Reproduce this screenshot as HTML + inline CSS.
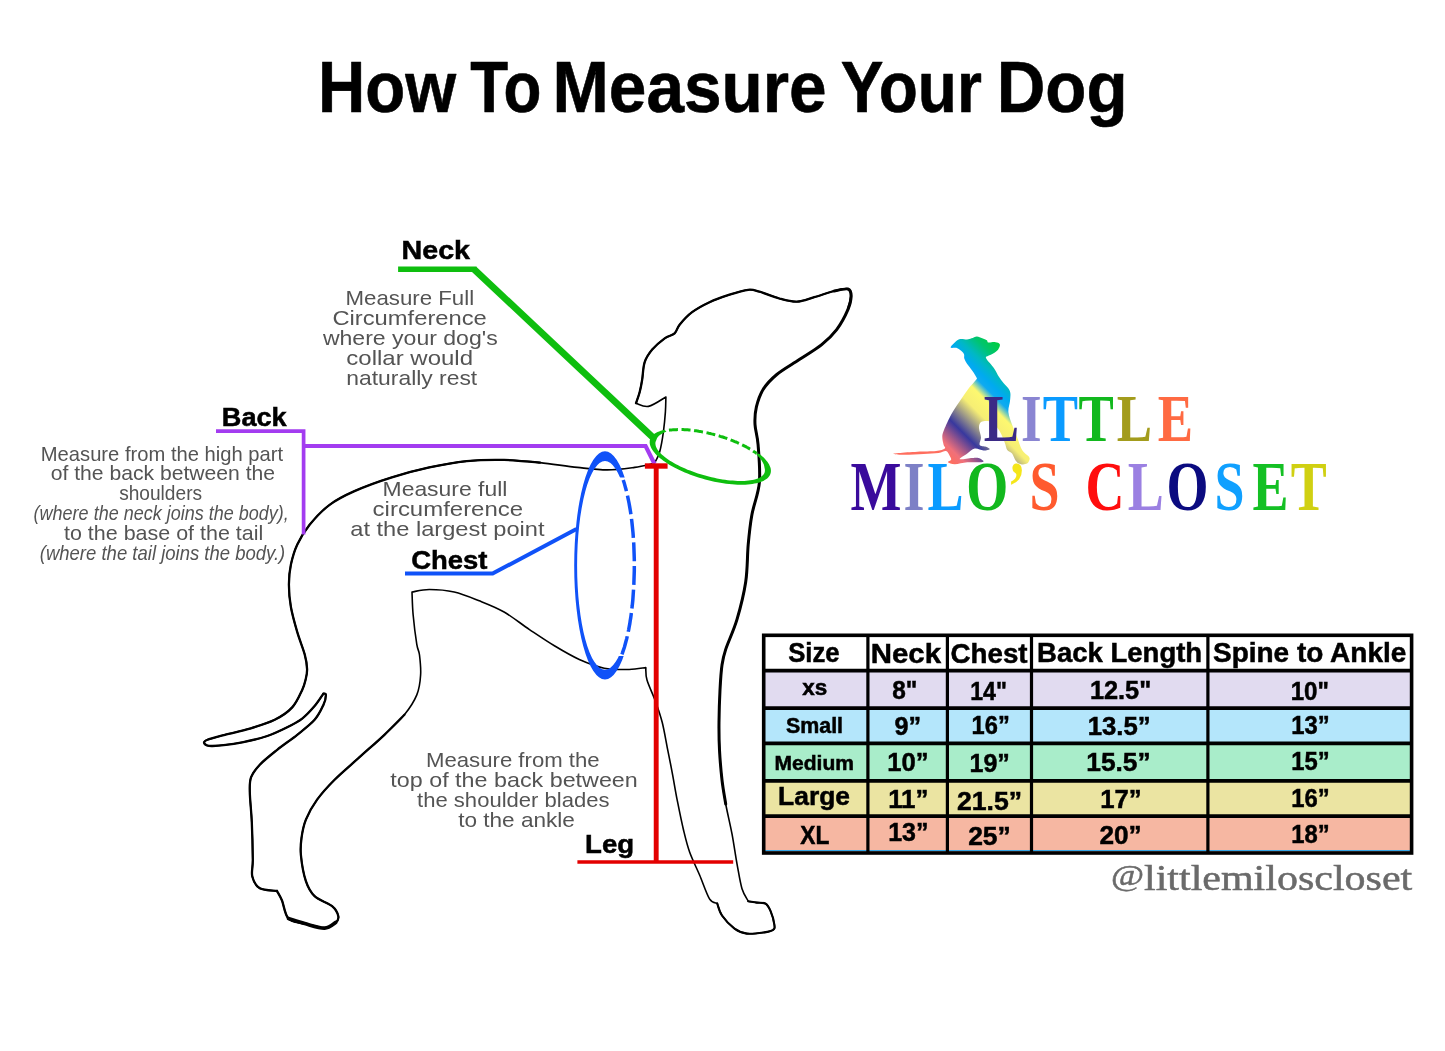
<!DOCTYPE html>
<html lang="en"><head><meta charset="utf-8"><title>How To Measure Your Dog</title>
<style>html,body{margin:0;padding:0;background:#fff}svg{display:block}</style></head>
<body>
<svg width="1445" height="1051" viewBox="0 0 1445 1051">
<g font-family="'Liberation Sans', sans-serif" font-weight="700" fill="#000" stroke="#000" stroke-width="0.6" stroke-linejoin="round">
<text x="318.04" y="111.9" font-size="72.6" textLength="138.18" lengthAdjust="spacingAndGlyphs">How</text>
<text x="470.18" y="111.9" font-size="72.6" textLength="71.16" lengthAdjust="spacingAndGlyphs">To</text>
<text x="552.61" y="111.9" font-size="72.6" textLength="274.04" lengthAdjust="spacingAndGlyphs">Measure</text>
<text x="840.82" y="111.9" font-size="72.6" textLength="141.06" lengthAdjust="spacingAndGlyphs">Your</text>
<text x="996.73" y="111.9" font-size="72.6" textLength="130.77" lengthAdjust="spacingAndGlyphs">Dog</text>
</g>
<path d="M636.0 403.2 C638.1 403.7 643.5 407.4 648.5 406.4 C653.5 405.4 663.0 398.6 665.9 397.0 C665.8 399.5 665.8 406.1 665.4 411.9 C665.0 417.7 664.3 425.2 663.4 431.9 C662.5 438.5 661.0 447.0 659.7 451.8 C658.5 456.6 657.0 458.5 655.9 460.5 C654.8 462.5 653.8 463.1 653.4 463.6 C650.3 464.2 642.4 466.3 634.7 467.4 C627.0 468.4 616.8 469.9 607.3 469.9 C597.8 469.9 588.6 468.6 577.4 467.4 C566.2 466.2 552.2 463.9 540.0 462.6 C527.8 461.4 516.3 460.1 504.1 459.9 C491.9 459.6 479.2 459.9 466.7 461.1 C454.2 462.4 441.8 464.7 429.3 467.4 C416.8 470.1 404.4 473.4 391.9 477.3 C379.4 481.2 364.9 486.5 354.5 491.1 C344.1 495.7 337.1 499.2 329.6 504.8 C322.1 510.4 315.0 518.1 309.6 524.7 C304.2 531.4 300.3 538.1 297.2 544.7 C294.1 551.4 292.3 558.0 290.9 564.6 C289.5 571.2 288.9 577.4 288.9 584.5 C288.9 591.6 289.5 599.1 290.9 607.0 C292.3 614.9 294.9 624.0 297.2 631.9 C299.5 639.8 303.0 648.2 304.7 654.4 C306.4 660.6 307.0 665.0 307.1 669.3 C307.2 673.6 306.3 676.6 305.5 680.0 C304.7 683.4 304.4 685.3 302.2 689.9 C300.0 694.5 296.8 702.4 292.2 707.4 C287.6 712.4 281.8 716.3 274.7 719.8 C267.6 723.3 258.1 726.1 249.8 728.6 C241.5 731.1 232.0 732.9 224.9 734.8 C217.8 736.7 210.8 738.3 207.4 739.8 C204.0 741.2 203.6 742.5 204.4 743.5 C205.2 744.5 206.1 746.2 212.4 746.0 C218.7 745.8 233.2 744.0 242.3 742.3 C251.5 740.6 259.8 738.5 267.3 736.0 C274.8 733.5 281.4 730.2 287.2 727.3 C293.0 724.4 297.6 722.1 302.2 718.6 C306.8 715.1 311.1 710.2 314.6 706.1 C318.1 702.0 321.9 695.8 323.4 693.7 C323.8 693.9 325.9 693.0 325.9 694.9 C325.9 696.8 325.3 700.8 323.4 704.9 C321.5 709.0 319.0 714.8 314.6 719.8 C310.2 724.8 303.4 729.8 297.2 734.8 C291.0 739.8 283.4 744.8 277.2 749.8 C271.0 754.8 264.2 760.1 259.8 764.7 C255.5 769.3 252.8 772.6 251.1 777.2 C249.4 781.8 249.7 784.6 249.8 792.1 C249.9 799.6 251.3 810.9 251.8 822.1 C252.3 833.3 252.7 850.4 252.8 859.5 C252.9 868.6 251.1 871.7 252.3 876.5 C253.5 881.3 255.7 885.9 259.8 888.3 C263.9 890.7 274.1 890.5 277.0 891.0 C277.8 892.6 280.1 895.9 282.0 900.5 C283.9 905.1 284.7 914.8 288.5 918.6 C292.3 922.5 298.7 922.0 304.7 923.6 C310.7 925.2 319.4 928.3 324.6 928.1 C329.8 927.9 333.5 924.4 335.8 922.4 C338.1 920.4 338.9 918.9 338.3 916.2 C337.7 913.5 336.1 909.5 332.1 906.2 C328.2 902.9 319.0 900.4 314.6 896.2 C310.2 892.0 308.2 888.1 305.9 881.2 C303.6 874.3 301.6 862.2 300.9 855.0 C300.2 847.8 300.7 843.9 301.5 838.0 C302.3 832.1 303.3 826.0 305.9 819.6 C308.5 813.2 312.3 806.2 317.1 799.6 C321.9 793.0 327.5 786.8 334.6 779.7 C341.7 772.6 351.2 764.7 359.5 757.2 C367.8 749.7 376.9 741.9 384.4 734.8 C391.9 727.7 399.0 721.4 404.4 714.8 C409.8 708.1 414.1 701.5 416.8 694.9 C419.5 688.3 420.2 681.6 420.6 675.0 C421.1 668.4 420.1 660.1 419.5 655.0 C418.9 649.9 417.9 651.1 416.8 644.4 C415.7 637.6 413.9 623.2 413.1 614.5 C412.3 605.8 412.2 595.8 412.0 592.0 C414.9 591.6 422.3 589.5 429.3 589.5 C436.3 589.5 445.9 590.1 454.2 592.0 C462.5 593.9 470.9 597.5 479.2 600.8 C487.5 604.1 495.7 607.2 504.1 612.0 C512.5 616.8 521.1 624.0 529.5 629.6 C537.9 635.2 546.1 640.8 554.4 645.8 C562.7 650.8 571.0 655.8 579.3 659.5 C587.6 663.2 595.9 666.5 604.2 668.2 C612.5 669.9 622.3 669.6 629.2 669.5 C636.1 669.4 643.0 667.9 645.8 667.6 C646.0 669.7 645.3 674.2 647.0 680.0 C648.7 685.8 653.4 695.4 655.9 702.4 C658.4 709.4 660.3 714.8 662.2 722.3 C664.1 729.8 665.6 739.0 667.2 747.3 C668.9 755.6 670.5 763.5 672.1 772.2 C673.8 780.9 675.2 790.1 677.1 799.6 C679.0 809.1 681.3 820.8 683.4 829.5 C685.5 838.2 686.9 844.4 689.6 852.0 C692.3 859.6 696.3 867.2 699.6 875.0 C702.9 882.8 706.6 894.2 709.5 898.9 C712.4 903.6 715.9 902.6 717.2 903.4 C718.0 905.4 719.1 911.3 722.0 915.5 C724.9 919.7 730.4 925.6 734.5 928.6 C738.6 931.6 741.9 933.0 746.9 933.6 C751.9 934.2 760.0 933.0 764.4 932.4 C768.8 931.8 771.4 931.1 773.1 929.9 C774.8 928.6 774.8 928.0 774.4 924.9 C774.0 921.8 772.1 914.7 770.6 911.2 C769.1 907.7 767.9 905.1 765.6 903.7 C763.3 902.3 759.8 903.0 756.9 902.6 C754.0 902.2 749.7 901.4 748.2 901.2 C747.2 899.1 743.9 894.9 742.0 888.7 C740.1 882.5 738.7 872.9 737.0 863.8 C735.3 854.7 733.9 843.9 732.0 833.9 C730.1 823.9 727.4 813.0 725.7 804.0 C724.0 795.0 723.0 789.0 722.0 780.0 C721.0 771.0 720.0 759.6 719.5 750.0 C719.0 740.4 718.9 732.3 719.0 722.3 C719.1 712.3 719.5 699.5 720.0 690.0 C720.5 680.5 721.0 671.8 722.0 665.0 C723.0 658.2 723.2 657.0 725.7 649.4 C728.2 641.8 733.7 630.6 737.0 619.4 C740.3 608.2 743.8 594.5 745.7 582.0 C747.6 569.5 747.2 555.9 748.2 544.7 C749.2 533.5 750.0 525.1 751.9 514.7 C753.8 504.3 758.4 493.9 759.4 482.3 C760.4 470.7 758.8 454.5 758.1 444.9 C757.4 435.2 755.3 430.7 755.0 424.4 C754.7 418.1 755.0 412.7 756.4 406.9 C757.8 401.1 759.7 394.9 763.1 389.5 C766.5 384.1 770.8 379.5 776.8 374.5 C782.8 369.5 791.8 364.6 799.3 359.6 C806.8 354.6 815.5 349.6 821.7 344.6 C827.9 339.6 832.3 335.4 836.7 329.6 C841.1 323.8 845.5 315.3 847.9 309.7 C850.3 304.1 851.1 299.4 851.1 296.0 C851.1 292.6 850.7 289.8 847.9 289.0 C845.1 288.2 839.8 289.6 834.2 291.0 C828.6 292.4 820.4 295.4 814.2 297.2 C808.0 299.0 802.6 301.5 796.8 301.7 C791.0 301.9 785.5 300.2 779.3 298.5 C773.1 296.8 764.6 293.1 759.4 291.7 C754.2 290.2 753.2 289.3 748.2 289.8 C743.2 290.3 736.0 292.6 729.5 294.7 C723.0 296.8 715.7 299.3 709.5 302.2 C703.3 305.1 697.1 308.4 692.1 312.2 C687.1 315.9 682.5 321.2 679.6 324.7 C676.7 328.2 677.1 331.1 674.6 333.4 C672.1 335.7 668.4 335.7 664.7 338.4 C661.0 341.1 655.5 345.7 652.2 349.6 C648.9 353.6 646.4 357.1 644.7 362.1 C643.0 367.1 643.0 374.5 642.2 379.5 C641.4 384.5 640.7 388.1 639.7 392.0 C638.7 395.9 636.6 401.3 636.0 403.2 Z" fill="none" stroke="#000" stroke-width="1.6" stroke-linejoin="round"/>
<path d="M540.0 462.6 C534.0 462.2 516.3 460.1 504.1 459.9 C491.9 459.6 479.2 459.9 466.7 461.1 C454.2 462.4 441.8 464.7 429.3 467.4 C416.8 470.1 404.4 473.4 391.9 477.3 C379.4 481.2 364.9 486.5 354.5 491.1 C344.1 495.7 337.1 499.2 329.6 504.8 C322.1 510.4 315.0 518.1 309.6 524.7 C304.2 531.4 300.3 538.1 297.2 544.7 C294.1 551.4 292.3 558.0 290.9 564.6 C289.5 571.2 288.9 577.4 288.9 584.5 C288.9 591.6 289.5 599.1 290.9 607.0 C292.3 614.9 294.9 624.0 297.2 631.9 C299.5 639.8 303.0 648.2 304.7 654.4 C306.4 660.6 307.0 665.0 307.1 669.3 C307.2 673.6 306.3 676.6 305.5 680.0 C304.7 683.4 304.4 685.3 302.2 689.9 C300.0 694.5 296.8 702.4 292.2 707.4 C287.6 712.4 281.8 716.3 274.7 719.8 C267.6 723.3 258.1 726.1 249.8 728.6 C241.5 731.1 232.0 732.9 224.9 734.8 C217.8 736.7 210.8 738.3 207.4 739.8 C204.0 741.2 203.6 742.5 204.4 743.5 C205.2 744.5 206.1 746.2 212.4 746.0 C218.7 745.8 233.2 744.0 242.3 742.3 C251.5 740.6 259.8 738.5 267.3 736.0 C274.8 733.5 281.4 730.2 287.2 727.3 C293.0 724.4 297.6 722.1 302.2 718.6 C306.8 715.1 311.1 710.2 314.6 706.1 C318.1 702.0 321.9 695.8 323.4 693.7" fill="none" stroke="#000" stroke-width="2.3" stroke-linecap="round" stroke-linejoin="round"/>
<path d="M323.4 693.7 C323.8 693.9 325.9 693.0 325.9 694.9 C325.9 696.8 325.3 700.8 323.4 704.9 C321.5 709.0 319.0 714.8 314.6 719.8 C310.2 724.8 303.4 729.8 297.2 734.8 C291.0 739.8 283.4 744.8 277.2 749.8 C271.0 754.8 264.2 760.1 259.8 764.7 C255.5 769.3 252.8 772.6 251.1 777.2 C249.4 781.8 249.7 784.6 249.8 792.1 C249.9 799.6 251.3 810.9 251.8 822.1 C252.3 833.3 252.7 850.4 252.8 859.5 C252.9 868.6 251.1 871.7 252.3 876.5 C253.5 881.3 255.7 885.9 259.8 888.3 C263.9 890.7 274.1 890.5 277.0 891.0" fill="none" stroke="#000" stroke-width="2.3" stroke-linecap="round" stroke-linejoin="round"/>
<path d="M277.0 891.0 C277.8 892.6 280.1 895.9 282.0 900.5 C283.9 905.1 284.7 914.8 288.5 918.6 C292.3 922.5 298.7 922.0 304.7 923.6 C310.7 925.2 319.4 928.3 324.6 928.1 C329.8 927.9 333.5 924.4 335.8 922.4 C338.1 920.4 338.9 918.9 338.3 916.2 C337.7 913.5 336.1 909.5 332.1 906.2 C328.2 902.9 319.0 900.4 314.6 896.2 C310.2 892.0 308.2 888.1 305.9 881.2 C303.6 874.3 301.6 862.2 300.9 855.0 C300.2 847.8 300.7 843.9 301.5 838.0 C302.3 832.1 303.3 826.0 305.9 819.6 C308.5 813.2 312.3 806.2 317.1 799.6 C321.9 793.0 327.5 786.8 334.6 779.7 C341.7 772.6 351.2 764.7 359.5 757.2 C367.8 749.7 376.9 741.9 384.4 734.8 C391.9 727.7 401.1 718.1 404.4 714.8" fill="none" stroke="#000" stroke-width="2.3" stroke-linecap="round" stroke-linejoin="round"/>
<path d="M717.2 903.4 C718.0 905.4 719.1 911.3 722.0 915.5 C724.9 919.7 730.4 925.6 734.5 928.6 C738.6 931.6 741.9 933.0 746.9 933.6 C751.9 934.2 760.0 933.0 764.4 932.4 C768.8 931.8 771.4 931.1 773.1 929.9 C774.8 928.6 774.8 928.0 774.4 924.9 C774.0 921.8 772.1 914.7 770.6 911.2 C769.1 907.7 767.9 905.1 765.6 903.7 C763.3 902.3 759.8 903.0 756.9 902.6 C754.0 902.2 749.7 901.4 748.2 901.2" fill="none" stroke="#000" stroke-width="2.1" stroke-linecap="round" stroke-linejoin="round"/>
<path d="M847.9 309.7 C848.4 307.4 851.1 299.4 851.1 296.0 C851.1 292.6 850.7 289.8 847.9 289.0 C845.1 288.2 839.8 289.6 834.2 291.0 C828.6 292.4 820.4 295.4 814.2 297.2 C808.0 299.0 802.6 301.5 796.8 301.7 C791.0 301.9 785.5 300.2 779.3 298.5 C773.1 296.8 764.6 293.1 759.4 291.7 C754.2 290.2 753.2 289.3 748.2 289.8 C743.2 290.3 736.0 292.6 729.5 294.7 C723.0 296.8 715.7 299.3 709.5 302.2 C703.3 305.1 697.1 308.4 692.1 312.2 C687.1 315.9 682.5 321.2 679.6 324.7 C676.7 328.2 677.1 331.1 674.6 333.4 C672.1 335.7 668.4 335.7 664.7 338.4 C661.0 341.1 655.5 345.7 652.2 349.6 C648.9 353.6 646.4 357.1 644.7 362.1 C643.0 367.1 643.0 374.5 642.2 379.5 C641.4 384.5 640.7 388.1 639.7 392.0 C638.7 395.9 636.6 401.3 636.0 403.2" fill="none" stroke="#000" stroke-width="2.3" stroke-linecap="round" stroke-linejoin="round"/>
<path d="M725.7 804.0 C725.1 800.0 723.0 789.0 722.0 780.0 C721.0 771.0 720.0 759.6 719.5 750.0 C719.0 740.4 718.9 732.3 719.0 722.3 C719.1 712.3 719.5 699.5 720.0 690.0 C720.5 680.5 721.0 671.8 722.0 665.0 C723.0 658.2 723.2 657.0 725.7 649.4 C728.2 641.8 733.7 630.6 737.0 619.4 C740.3 608.2 743.8 594.5 745.7 582.0 C747.6 569.5 747.2 555.9 748.2 544.7 C749.2 533.5 750.0 525.1 751.9 514.7 C753.8 504.3 758.4 493.9 759.4 482.3 C760.4 470.7 758.8 454.5 758.1 444.9 C757.4 435.2 755.3 430.7 755.0 424.4 C754.7 418.1 755.0 412.7 756.4 406.9 C757.8 401.1 759.7 394.9 763.1 389.5 C766.5 384.1 770.8 379.5 776.8 374.5 C782.8 369.5 791.8 364.6 799.3 359.6 C806.8 354.6 815.5 349.6 821.7 344.6 C827.9 339.6 832.3 335.4 836.7 329.6 C841.1 323.8 845.5 315.3 847.9 309.7 C850.3 304.1 851.1 299.4 851.1 296.0 C851.1 292.6 850.7 289.8 847.9 289.0 C845.1 288.2 836.5 290.7 834.2 291.0" fill="none" stroke="#000" stroke-width="3.0" stroke-linecap="round" stroke-linejoin="round"/>
<path d="M288.5 918.6 C291.2 919.4 298.7 922.0 304.7 923.6 C310.7 925.2 319.4 928.3 324.6 928.1 C329.8 927.9 333.9 923.4 335.8 922.4" fill="none" stroke="#000" stroke-width="3.6" stroke-linecap="round"/>
<path d="M216 431.1H303.6V534.5" fill="none" stroke="#a33cf0" stroke-width="3.7"/>
<path d="M303.6 446H645.6L654.6 464" fill="none" stroke="#a33cf0" stroke-width="4.2"/>
<path d="M405 573.6H492.6L576.5 529" fill="none" stroke="#1052f8" stroke-width="4"/>
<clipPath id="bclip"><path d="M560 440H605V700H560Z M605 440H650V477.6H605Z M605 656H650V700H605Z"/></clipPath>
<path clip-path="url(#bclip)" fill-rule="evenodd" fill="#1052f8" d="M574.2 565.4a30.8 114.0 0 1 0 61.6 0a30.8 114.0 0 1 0 -61.6 0Z M577.1 565.4a27.9 104.4 0 1 0 55.8 0a27.9 104.4 0 1 0 -55.8 0Z"/>
<path d="M623.2 480.0 L624.2 482.9 L625.0 485.9 L625.8 488.8 L626.6 491.7 L627.3 494.7 L627.9 497.6 L628.5 500.5 L629.1 503.5 L629.6 506.4 L630.1 509.3 L630.6 512.3 L631.0 515.2 L631.4 518.1 L631.8 521.1 L632.1 524.0 L632.4 526.9 L632.7 529.9 L633.0 532.8 L633.2 535.7 L633.4 538.7 L633.6 541.6 L633.8 544.5 L633.9 547.5 L634.0 550.4 L634.1 553.3 L634.2 556.3 L634.3 559.2 L634.3 562.1 L634.3 565.1 L634.3 568.0 L634.3 570.9 L634.2 573.9 L634.1 576.8 L634.0 579.7 L633.9 582.7 L633.8 585.6 L633.6 588.5 L633.4 591.5 L633.2 594.4 L633.0 597.3 L632.8 600.3 L632.5 603.2 L632.2 606.1 L631.8 609.1 L631.5 612.0 L631.1 614.9 L630.7 617.9 L630.2 620.8 L629.8 623.7 L629.2 626.7 L628.7 629.6 L628.1 632.5 L627.4 635.5 L626.8 638.4 L626.0 641.3 L625.2 644.3 L624.4 647.2 L623.4 650.1 L622.4 653.1 L621.3 656.0" fill="none" stroke="#1052f8" stroke-width="3.5" stroke-dasharray="19 4.6" stroke-dashoffset="7.4"/>
<path d="M656.2 466V862" fill="none" stroke="#e30000" stroke-width="4.9"/>
<path d="M644.9 466H667.6" fill="none" stroke="#e30000" stroke-width="5.4"/>
<path d="M577.4 862H733.2" fill="none" stroke="#e30000" stroke-width="3.6"/>
<path d="M398.1 269.2H476.5" fill="none" stroke="#0ebe0e" stroke-width="5.5"/>
<path d="M474 269.2L653.5 438" fill="none" stroke="#0ebe0e" stroke-width="6.7"/>
<g transform="translate(710.3 456.5) rotate(15.6)">
<path fill="#0ebe0e" d="M45.8 -16.0 L47.9 -15.1 L49.8 -14.2 L51.7 -13.3 L53.4 -12.3 L54.9 -11.3 L56.4 -10.2 L57.7 -9.2 L58.8 -8.1 L59.8 -6.9 L60.7 -5.8 L61.4 -4.7 L61.9 -3.5 L62.3 -2.3 L62.5 -1.2 L62.6 0.0 L62.5 1.2 L62.3 2.3 L61.9 3.5 L61.4 4.7 L60.7 5.8 L59.8 6.9 L58.8 8.1 L57.7 9.2 L56.4 10.2 L54.9 11.3 L53.4 12.3 L51.7 13.3 L49.8 14.2 L47.9 15.1 L45.8 16.0 L43.6 16.9 L41.3 17.7 L38.9 18.4 L36.4 19.1 L33.8 19.8 L31.1 20.4 L28.4 21.0 L25.5 21.5 L22.6 21.9 L19.7 22.3 L16.7 22.6 L13.7 22.9 L10.6 23.2 L7.5 23.3 L4.4 23.4 L1.2 23.5 L-1.9 23.5 L-5.0 23.4 L-8.1 23.3 L-11.2 23.1 L-14.3 22.9 L-17.3 22.6 L-20.3 22.2 L-23.2 21.8 L-26.1 21.4 L-28.9 20.8 L-31.7 20.3 L-34.3 19.6 L-36.9 19.0 L-39.4 18.3 L-41.8 17.5 L-44.1 16.7 L-46.2 15.8 L-48.3 15.0 L-50.2 14.0 L-52.0 13.1 L-53.7 12.1 L-55.2 11.1 L-56.6 10.0 L-57.9 8.9 L-59.0 7.8 L-60.0 6.7 L-60.8 5.6 L-61.5 4.4 L-62.0 3.3 L-62.3 2.1 L-62.6 0.9 L-62.6 -0.2 L-62.5 -1.4 L-62.2 -2.6 L-61.8 -3.8 L-61.2 -4.9 L-60.5 -6.1 L-59.6 -7.2 L-58.6 -8.3 L-57.4 -9.4 L-56.1 -10.4 L-54.6 -11.5 L-53.0 -12.5 L-51.3 -13.5 L-48.9 -12.1 L-50.3 -11.1 L-51.6 -10.0 L-52.7 -9.0 L-53.7 -7.9 L-54.5 -6.8 L-55.2 -5.8 L-55.7 -4.7 L-56.1 -3.7 L-56.3 -2.7 L-56.4 -1.7 L-56.5 -0.7 L-56.6 0.3 L-56.6 1.3 L-56.4 2.2 L-56.0 3.2 L-55.6 4.1 L-55.0 5.1 L-54.2 6.0 L-53.4 6.9 L-52.4 7.8 L-51.2 8.7 L-49.9 9.6 L-48.5 10.4 L-47.0 11.2 L-45.4 12.0 L-43.7 12.8 L-41.8 13.5 L-39.8 14.2 L-37.8 14.9 L-35.6 15.5 L-33.4 16.1 L-31.0 16.6 L-28.6 17.1 L-26.2 17.6 L-23.6 18.0 L-21.0 18.4 L-18.4 18.8 L-15.7 19.0 L-12.9 19.3 L-10.2 19.5 L-7.4 19.6 L-4.5 19.7 L-1.7 19.8 L1.1 19.8 L3.9 19.8 L6.8 19.7 L9.6 19.5 L12.3 19.3 L15.1 19.1 L17.8 18.8 L20.5 18.5 L23.1 18.1 L25.6 17.7 L28.1 17.2 L30.5 16.7 L32.9 16.2 L35.2 15.6 L37.3 15.0 L39.4 14.4 L41.4 13.7 L43.3 12.9 L45.0 12.2 L46.7 11.4 L48.2 10.6 L49.7 9.8 L51.0 8.9 L52.1 8.0 L53.2 7.1 L54.1 6.2 L54.8 5.3 L55.5 4.3 L56.0 3.4 L56.3 2.4 L56.5 1.5 L56.6 0.5 L56.5 -0.5 L56.3 -1.4 L56.0 -2.4 L55.5 -3.3 L55.0 -4.3 L54.5 -5.3 L53.9 -6.4 L53.1 -7.4 L52.2 -8.4 L51.1 -9.4 L49.9 -10.5 L48.5 -11.5 L47.1 -12.5 L45.4 -13.4 L43.7 -14.4Z"/>
<path d="M-48.7 -13.4 L-47.9 -13.7 L-47.1 -14.1 L-46.2 -14.5 L-45.4 -14.8 L-44.5 -15.2 L-43.6 -15.5 L-42.6 -15.9 L-41.7 -16.2 L-40.7 -16.5 L-39.7 -16.8 L-38.7 -17.2 L-37.7 -17.5 L-36.6 -17.8 L-35.6 -18.0 L-34.5 -18.3 L-33.4 -18.6 L-32.3 -18.8 L-31.2 -19.1 L-30.0 -19.3 L-28.9 -19.6 L-27.7 -19.8 L-26.5 -20.0 L-25.3 -20.2 L-24.1 -20.4 L-22.9 -20.6 L-21.7 -20.7 L-20.5 -20.9 L-19.2 -21.1 L-17.9 -21.2 L-16.7 -21.4 L-15.4 -21.5 L-14.1 -21.6 L-12.9 -21.7 L-11.6 -21.8 L-10.3 -21.9 L-9.0 -22.0 L-7.7 -22.0 L-6.3 -22.1 L-5.0 -22.1 L-3.7 -22.2 L-2.4 -22.2 L-1.1 -22.2 L0.2 -22.2 L1.5 -22.2 L2.9 -22.2 L4.2 -22.1 L5.5 -22.1 L6.8 -22.1 L8.1 -22.0 L9.4 -21.9 L10.7 -21.9 L12.0 -21.8 L13.3 -21.7 L14.6 -21.6 L15.9 -21.4 L17.1 -21.3 L18.4 -21.2 L19.6 -21.0 L20.9 -20.9 L22.1 -20.7 L23.3 -20.5 L24.5 -20.3 L25.7 -20.1 L26.9 -19.9 L28.1 -19.7 L29.3 -19.5 L30.4 -19.2 L31.6 -19.0 L32.7 -18.7 L33.8 -18.5 L34.9 -18.2 L35.9 -17.9 L37.0 -17.7 L38.0 -17.4 L39.1 -17.1 L40.1 -16.7 L41.0 -16.4 L42.0 -16.1 L43.0 -15.8 L43.9 -15.4" fill="none" stroke="#0ebe0e" stroke-width="3" stroke-dasharray="9 3.6" stroke-dashoffset="-2"/>
</g>
<g font-family="'Liberation Sans', sans-serif" font-weight="700" fill="#000" stroke="#000" stroke-width="0.5">
<text x="401.54" y="259.4" font-size="25.0" textLength="68.48" lengthAdjust="spacingAndGlyphs">Neck</text>
<text x="221.84" y="425.6" font-size="25.0" textLength="64.88" lengthAdjust="spacingAndGlyphs">Back</text>
<text x="411.20" y="568.5" font-size="25.0" textLength="76.27" lengthAdjust="spacingAndGlyphs">Chest</text>
<text x="585.11" y="852.6" font-size="25.0" textLength="49.07" lengthAdjust="spacingAndGlyphs">Leg</text>
</g>
<g font-family="'Liberation Sans', sans-serif" fill="#545454">
<text x="345.52" y="304.7" font-size="19.8" textLength="128.63" lengthAdjust="spacingAndGlyphs">Measure Full</text>
<text x="332.41" y="324.7" font-size="19.8" textLength="154.41" lengthAdjust="spacingAndGlyphs">Circumference</text>
<text x="322.90" y="344.6" font-size="19.8" textLength="174.79" lengthAdjust="spacingAndGlyphs">where your dog&#39;s</text>
<text x="346.34" y="364.6" font-size="19.8" textLength="126.73" lengthAdjust="spacingAndGlyphs">collar would</text>
<text x="346.31" y="384.5" font-size="19.8" textLength="130.91" lengthAdjust="spacingAndGlyphs">naturally rest</text>
<text x="40.79" y="460.5" font-size="19.8" textLength="242.34" lengthAdjust="spacingAndGlyphs">Measure from the high part</text>
<text x="50.75" y="480.4" font-size="19.8" textLength="224.37" lengthAdjust="spacingAndGlyphs">of the back between the</text>
<text x="119.13" y="500.4" font-size="19.8" textLength="82.96" lengthAdjust="spacingAndGlyphs">shoulders</text>
<text x="33.59" y="520.3" font-size="19.8" textLength="255.26" lengthAdjust="spacingAndGlyphs" font-style="italic">(where the neck joins the body),</text>
<text x="63.98" y="540.3" font-size="19.8" textLength="199.31" lengthAdjust="spacingAndGlyphs">to the base of the tail</text>
<text x="39.77" y="560.2" font-size="19.8" textLength="245.48" lengthAdjust="spacingAndGlyphs" font-style="italic">(where the tail joins the body.)</text>
<text x="382.57" y="495.6" font-size="19.8" textLength="124.77" lengthAdjust="spacingAndGlyphs">Measure full</text>
<text x="372.64" y="515.6" font-size="19.8" textLength="150.44" lengthAdjust="spacingAndGlyphs">circumference</text>
<text x="350.26" y="535.5" font-size="19.8" textLength="194.33" lengthAdjust="spacingAndGlyphs">at the largest point</text>
<text x="426.03" y="767.3" font-size="19.8" textLength="173.61" lengthAdjust="spacingAndGlyphs">Measure from the</text>
<text x="390.35" y="787.3" font-size="19.8" textLength="247.44" lengthAdjust="spacingAndGlyphs">top of the back between</text>
<text x="417.07" y="807.2" font-size="19.8" textLength="192.47" lengthAdjust="spacingAndGlyphs">the shoulder blades</text>
<text x="458.16" y="827.2" font-size="19.8" textLength="116.77" lengthAdjust="spacingAndGlyphs">to the ankle</text>
</g>
<defs><linearGradient id="rb" gradientUnits="userSpaceOnUse" x1="1000" y1="346.6" x2="917.3" y2="429.3"><stop offset="0" stop-color="#00cc44"/><stop offset=".1" stop-color="#00c472"/><stop offset=".2" stop-color="#00b8c4"/><stop offset=".28" stop-color="#00aaf0"/><stop offset=".335" stop-color="#10aaf0"/><stop offset=".41" stop-color="#fdf870"/><stop offset=".53" stop-color="#f6ee74"/><stop offset=".745" stop-color="#38389e"/><stop offset=".915" stop-color="#f0707a"/><stop offset="1" stop-color="#ff6e5e"/></linearGradient></defs>
<path d="M950.6 347.5 C950.4 346.6 953.2 343.9 954.8 342.5 C956.4 341.1 958.1 339.6 960.1 339.1 C962.1 338.6 965.1 339.6 967.0 339.5 C968.9 339.4 969.9 338.8 971.5 338.3 C973.1 337.8 975.1 336.4 976.9 336.4 C978.7 336.4 980.6 337.7 982.2 338.3 C983.9 338.9 985.8 339.5 986.8 340.2 C987.8 340.9 987.0 342.2 988.3 342.5 C989.6 342.8 992.6 342.0 994.4 342.1 C996.2 342.2 998.0 342.7 998.9 343.3 C999.8 343.9 1000.0 344.6 999.9 345.6 C999.8 346.6 999.2 348.1 998.2 349.4 C997.2 350.7 995.2 352.1 993.6 353.2 C992.0 354.3 989.6 355.1 988.3 355.8 C987.0 356.6 985.6 356.5 985.9 357.7 C986.1 358.9 988.3 361.1 989.8 363.1 C991.3 365.1 993.6 367.6 995.1 369.9 C996.6 372.2 997.5 374.6 998.9 376.8 C1000.3 379.0 1001.9 380.9 1003.5 382.9 C1005.1 384.9 1007.6 387.1 1008.8 388.9 C1009.9 390.7 1010.2 391.5 1010.4 393.5 C1010.6 395.5 1010.3 398.0 1010.0 401.1 C1009.7 404.2 1008.0 408.4 1008.4 412.3 C1008.8 416.2 1010.6 420.6 1012.1 424.7 C1013.6 428.8 1015.4 433.0 1017.1 437.2 C1018.8 441.4 1020.2 446.8 1022.1 449.9 C1024.0 453.0 1027.0 454.6 1028.3 456.1 C1029.5 457.7 1029.8 457.9 1029.6 459.2 C1029.4 460.4 1028.5 462.8 1027.1 463.6 C1025.6 464.4 1022.8 464.6 1020.9 464.2 C1019.0 463.8 1017.4 462.9 1015.9 461.1 C1014.4 459.3 1013.5 455.5 1012.1 453.6 C1010.7 451.7 1008.4 451.8 1007.2 449.9 C1006.0 448.0 1006.0 445.5 1004.7 442.4 C1003.5 439.3 1001.8 434.5 999.7 431.2 C997.6 427.9 994.9 424.1 992.2 422.4 C989.5 420.7 985.6 421.0 983.5 421.2 C981.4 421.4 980.4 422.4 979.7 423.7 C979.0 424.9 978.9 426.4 979.1 428.7 C979.3 431.0 980.9 434.7 981.0 437.4 C981.1 440.1 978.9 443.3 979.7 444.9 C980.5 446.4 984.3 446.0 986.0 446.7 C987.7 447.4 990.1 448.6 989.7 449.2 C989.3 449.8 986.0 450.6 983.5 450.5 C981.0 450.4 977.4 448.1 974.7 448.6 C972.0 449.1 969.8 451.8 967.3 453.6 C964.8 455.4 959.0 458.5 959.8 459.2 C960.6 459.9 969.1 458.2 972.2 458.0 C975.3 457.8 976.6 457.5 978.5 458.0 C980.4 458.5 983.3 460.4 983.5 461.1 C983.7 461.8 982.4 462.1 979.7 462.3 C977.0 462.5 971.4 462.0 967.3 462.3 C963.1 462.6 958.0 464.2 954.8 464.2 C951.6 464.2 948.5 463.0 947.9 462.3 C947.3 461.6 950.8 460.8 951.1 459.8 C951.4 458.8 950.6 457.6 949.8 456.1 C949.0 454.7 948.0 451.6 946.1 451.1 C944.2 450.6 942.4 452.5 938.6 453.0 C934.9 453.5 929.2 453.6 923.6 453.9 C918.0 454.2 909.9 454.8 904.9 454.8 C899.9 454.8 894.7 454.2 893.7 453.9 C892.7 453.6 894.8 453.4 898.7 453.0 C902.7 452.6 911.2 452.0 917.4 451.7 C923.6 451.4 931.5 451.6 936.1 451.1 C940.7 450.6 943.5 449.7 944.8 448.6 C946.0 447.5 944.0 446.6 943.6 444.7 C943.2 442.8 942.3 439.5 942.3 437.2 C942.3 434.9 942.4 434.3 943.6 431.0 C944.9 427.7 947.5 421.6 949.8 417.2 C952.1 412.8 954.3 409.4 957.3 404.8 C960.3 400.2 964.6 393.9 967.7 389.7 C970.8 385.5 974.6 381.8 976.1 379.8 C977.6 377.8 977.1 379.0 976.5 377.5 C975.9 376.0 973.9 373.0 972.3 370.7 C970.7 368.4 968.3 365.8 967.0 363.8 C965.7 361.8 964.8 360.1 964.3 358.5 C963.8 356.9 964.6 355.3 963.9 353.9 C963.2 352.5 961.4 351.1 960.1 350.1 C958.8 349.1 957.9 348.2 956.3 347.8 C954.7 347.4 950.9 348.4 950.6 347.5 Z" fill="url(#rb)"/>
<text transform="scale(0.780 1)" x="1261.3 1309.1 1336.8 1382.6 1431.6 1484.3" y="440.6" font-family="'Liberation Serif', serif" font-size="67.8" font-weight="700" stroke-width="0"><tspan fill="#3b2a86" stroke="#3b2a86">L</tspan><tspan fill="#8a85d2" stroke="#8a85d2">I</tspan><tspan fill="#0a9bff" stroke="#0a9bff">T</tspan><tspan fill="#12b81e" stroke="#12b81e">T</tspan><tspan fill="#a39c1c" stroke="#a39c1c">L</tspan><tspan fill="#ff6a42" stroke="#ff6a42">E</tspan></text>
<text transform="scale(0.780 1)" x="1090.3 1158.3 1189.0 1238.8 1292.1 1320.0 1350.0 1391.6 1446.0 1495.6 1557.1 1605.7 1654.9" y="509.9" font-family="'Liberation Serif', serif" font-size="69.2" font-weight="700" stroke-width="0"><tspan fill="#3a0b9c" stroke="#3a0b9c">M</tspan><tspan fill="#7d80c6" stroke="#7d80c6">I</tspan><tspan fill="#0a9bff" stroke="#0a9bff">L</tspan><tspan fill="#12b81e" stroke="#12b81e">O</tspan><tspan fill="#f5e61a" stroke="#f5e61a">’</tspan><tspan fill="#ff5a2e" stroke="#ff5a2e">S</tspan> <tspan fill="#ff0d0d" stroke="#ff0d0d">C</tspan><tspan fill="#9b80e2" stroke="#9b80e2">L</tspan><tspan fill="#0b0b80" stroke="#0b0b80">O</tspan><tspan fill="#10a0ff" stroke="#10a0ff">S</tspan><tspan fill="#14c024" stroke="#14c024">E</tspan><tspan fill="#d0d012" stroke="#d0d012">T</tspan></text>
<rect x="763.7" y="635.3" width="647.9" height="35.3" fill="#ffffff"/>
<rect x="763.7" y="670.6" width="647.9" height="37.5" fill="#e1dbf0"/>
<rect x="763.7" y="708.1" width="647.9" height="35.3" fill="#b4e6fb"/>
<rect x="763.7" y="743.4" width="647.9" height="37.4" fill="#a9edca"/>
<rect x="763.7" y="780.8" width="647.9" height="35.4" fill="#ebe4a2"/>
<rect x="763.7" y="816.2" width="647.9" height="36.8" fill="#f6b7a2"/>
<path d="M765 850.6H1410" stroke="#35a6e6" stroke-width="1.2" fill="none"/>
<path d="M763.7 670.6H1411.6M763.7 708.1H1411.6M763.7 743.4H1411.6M763.7 780.8H1411.6M763.7 816.2H1411.6" stroke="#000" stroke-width="3.7" fill="none"/>
<path d="M867.9 635.3V853.0M947.4 635.3V853.0M1031.5 635.3V853.0M1207.9 635.3V853.0" stroke="#000" stroke-width="3.2" fill="none"/>
<rect x="763.7" y="635.3" width="647.9" height="217.7" fill="none" stroke="#000" stroke-width="3.6"/>
<g font-family="'Liberation Sans', sans-serif" font-weight="700" fill="#000" stroke="#000" stroke-width="0.5">
<text x="788.13" y="662.4" font-size="27.5" textLength="51.50" lengthAdjust="spacingAndGlyphs">Size</text>
<text x="870.69" y="663.4" font-size="27.5" textLength="70.33" lengthAdjust="spacingAndGlyphs">Neck</text>
<text x="950.59" y="663.4" font-size="27.5" textLength="76.98" lengthAdjust="spacingAndGlyphs">Chest</text>
<text x="1037.01" y="661.8" font-size="27.3" textLength="165.17" lengthAdjust="spacingAndGlyphs">Back Length</text>
<text x="1212.96" y="661.8" font-size="27.3" textLength="193.41" lengthAdjust="spacingAndGlyphs">Spine to Ankle</text>
<text x="802.28" y="694.8" font-size="22.5" textLength="24.98" lengthAdjust="spacingAndGlyphs">xs</text>
<text x="892.27" y="698.6" font-size="26.0" textLength="25.12" lengthAdjust="spacingAndGlyphs">8&quot;</text>
<text x="970.22" y="699.6" font-size="26.0" textLength="36.62" lengthAdjust="spacingAndGlyphs">14&quot;</text>
<text x="1089.88" y="698.9" font-size="26.0" textLength="61.38" lengthAdjust="spacingAndGlyphs">12.5&quot;</text>
<text x="1290.65" y="699.7" font-size="26.0" textLength="38.25" lengthAdjust="spacingAndGlyphs">10&quot;</text>
<text x="785.96" y="732.5" font-size="21.5" textLength="57.10" lengthAdjust="spacingAndGlyphs">Small</text>
<text x="894.62" y="734.5" font-size="26.0" textLength="26.60" lengthAdjust="spacingAndGlyphs">9”</text>
<text x="971.58" y="733.5" font-size="26.0" textLength="38.15" lengthAdjust="spacingAndGlyphs">16”</text>
<text x="1087.65" y="734.9" font-size="26.0" textLength="63.01" lengthAdjust="spacingAndGlyphs">13.5”</text>
<text x="1291.27" y="734.3" font-size="26.0" textLength="38.37" lengthAdjust="spacingAndGlyphs">13”</text>
<text x="774.53" y="769.9" font-size="20.3" textLength="79.49" lengthAdjust="spacingAndGlyphs">Medium</text>
<text x="887.16" y="770.8" font-size="26.0" textLength="41.32" lengthAdjust="spacingAndGlyphs">10”</text>
<text x="969.50" y="771.8" font-size="26.0" textLength="40.34" lengthAdjust="spacingAndGlyphs">19”</text>
<text x="1086.22" y="771.0" font-size="26.0" textLength="64.49" lengthAdjust="spacingAndGlyphs">15.5”</text>
<text x="1291.27" y="770.4" font-size="26.0" textLength="38.37" lengthAdjust="spacingAndGlyphs">15”</text>
<text x="778.08" y="805.1" font-size="25.7" textLength="71.93" lengthAdjust="spacingAndGlyphs">Large</text>
<text x="888.15" y="808.2" font-size="26.0" textLength="40.36" lengthAdjust="spacingAndGlyphs">11”</text>
<text x="956.97" y="809.6" font-size="26.0" textLength="65.17" lengthAdjust="spacingAndGlyphs">21.5”</text>
<text x="1100.16" y="807.5" font-size="26.0" textLength="41.43" lengthAdjust="spacingAndGlyphs">17”</text>
<text x="1291.27" y="807.0" font-size="26.0" textLength="38.37" lengthAdjust="spacingAndGlyphs">16”</text>
<text x="800.27" y="843.5" font-size="25.2" textLength="29.08" lengthAdjust="spacingAndGlyphs">XL</text>
<text x="888.20" y="841.2" font-size="26.0" textLength="40.23" lengthAdjust="spacingAndGlyphs">13”</text>
<text x="968.17" y="845.1" font-size="26.0" textLength="42.67" lengthAdjust="spacingAndGlyphs">25”</text>
<text x="1099.38" y="843.5" font-size="26.0" textLength="42.24" lengthAdjust="spacingAndGlyphs">20”</text>
<text x="1291.27" y="843.0" font-size="26.0" textLength="38.37" lengthAdjust="spacingAndGlyphs">18”</text>
</g>
<text x="1110.93" y="889.8" font-family="'Liberation Serif', serif" fill="#6a6a6a" stroke="#6a6a6a" stroke-width="0.5" font-size="35.6" textLength="301.30" lengthAdjust="spacingAndGlyphs"><tspan font-size="30.4" dy="-4.6">@</tspan><tspan dy="4.6">littlemiloscloset</tspan></text>
</svg>
</body></html>
